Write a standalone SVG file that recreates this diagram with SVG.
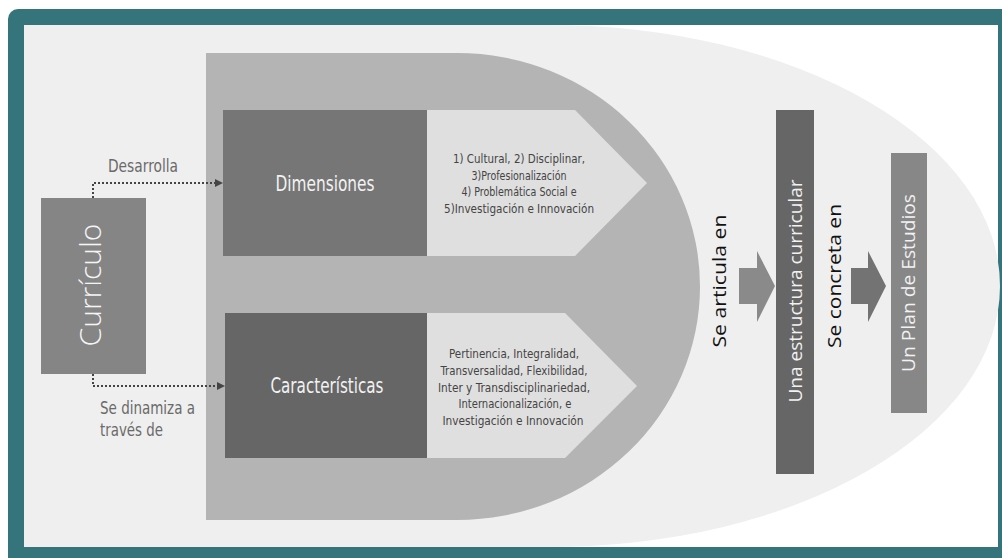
<svg xmlns="http://www.w3.org/2000/svg" width="1002" height="558" viewBox="0 0 1002 558">
<style>
.cond{font-family:"Liberation Sans Narrow","DejaVu Sans Condensed","Liberation Sans",sans-serif;}
.open{font-family:"Open Sans","Noto Sans","DejaVu Sans",sans-serif;}
.small{font-size:13px;fill:#444;}
.lbl{font-size:17px;fill:#6a6a6a;}
.title{font-size:20.5px;fill:#f2f2f2;}
.dot{fill:none;stroke:#444;stroke-width:2;stroke-dasharray:2 2;}
</style>
<defs>
<marker id="ah" viewBox="0 0 8 8" refX="7" refY="4" markerWidth="8" markerHeight="8" markerUnits="userSpaceOnUse" orient="auto">
<path d="M0,0 L8,4 L0,8 Z" fill="#444"/>
</marker>
</defs>
<g id="frame">
<path d="M18,9 H1002 V558 H8 V19 A10,10 0 0 1 18,9 Z" fill="#36747b"/>
<rect x="24" y="25" width="974" height="522" fill="#ffffff"/>
<path d="M24,25 H550 A450,261 0 0 1 550,547 H24 Z" fill="#efefef"/>
<path d="M206,53 H457 A243,233.5 0 0 1 457,520 H206 Z" fill="#b4b4b4"/>
</g>
<g id="curriculo">
<rect x="41" y="198" width="105" height="176" fill="#858585"/>
<text class="open" transform="translate(101,285) rotate(-90)" text-anchor="middle" font-size="30" font-weight="300" fill="#f5f5f5" textLength="123" lengthAdjust="spacingAndGlyphs">Currículo</text>
</g>
<g id="connectors">
<polyline class="dot" points="93,198 93,183 222,183" marker-end="url(#ah)"/>
<polyline class="dot" points="93,374 93,386 224,386" marker-end="url(#ah)"/>
<text class="cond lbl" x="108" y="172" textLength="70" lengthAdjust="spacingAndGlyphs">Desarrolla</text>
<text class="cond lbl" x="100" y="414" textLength="95" lengthAdjust="spacingAndGlyphs">Se dinamiza a</text>
<text class="cond lbl" x="100" y="436" textLength="63" lengthAdjust="spacingAndGlyphs">través de</text>
</g>
<g id="dimensiones">
<polygon points="427,110 575,110 647,183 575,256 427,256" fill="#dfdfdf"/>
<rect x="223" y="110" width="204" height="146" fill="#767676"/>
<text class="cond title" x="325" y="191" text-anchor="middle" textLength="99" lengthAdjust="spacingAndGlyphs">Dimensiones</text>
<g class="cond small" text-anchor="middle">
<text x="519" y="163" textLength="132" lengthAdjust="spacingAndGlyphs">1) Cultural, 2) Disciplinar,</text>
<text x="519" y="180" textLength="95" lengthAdjust="spacingAndGlyphs">3)Profesionalización</text>
<text x="519" y="196" textLength="115" lengthAdjust="spacingAndGlyphs">4) Problemática Social e</text>
<text x="519" y="213" textLength="150" lengthAdjust="spacingAndGlyphs">5)Investigación e Innovación</text>
</g>
</g>
<g id="caracteristicas">
<polygon points="427,313 565,313 637,386 565,458 427,458" fill="#dfdfdf"/>
<rect x="225" y="313" width="202" height="145" fill="#666666"/>
<text class="cond title" x="327" y="393" text-anchor="middle" textLength="113" lengthAdjust="spacingAndGlyphs">Características</text>
<g class="cond small" text-anchor="middle">
<text x="514" y="358" textLength="130" lengthAdjust="spacingAndGlyphs">Pertinencia, Integralidad,</text>
<text x="514" y="375" textLength="147" lengthAdjust="spacingAndGlyphs">Transversalidad, Flexibilidad,</text>
<text x="514" y="392" textLength="152" lengthAdjust="spacingAndGlyphs">Inter y Transdisciplinariedad,</text>
<text x="515" y="408" textLength="113" lengthAdjust="spacingAndGlyphs">Internacionalización, e</text>
<text x="513" y="425" textLength="141" lengthAdjust="spacingAndGlyphs">Investigación e Innovación</text>
</g>
</g>
<g id="articula">
<polygon points="739,268 757,268 757,251 775,286 757,322 757,304 739,304" fill="#8a8a8a"/>
<text class="open" transform="translate(726,281) rotate(-90)" text-anchor="middle" font-size="19" fill="#111" textLength="133" lengthAdjust="spacingAndGlyphs">Se articula en</text>
</g>
<g id="estructura">
<rect x="776" y="110" width="38" height="364" fill="#666666"/>
<text class="open" transform="translate(802,291) rotate(-90)" text-anchor="middle" font-size="19" fill="#f2f2f2" textLength="223" lengthAdjust="spacingAndGlyphs">Una estructura curricular</text>
</g>
<g id="concreta">
<polygon points="851,268 868,268 868,251 886,286 868,322 868,304 851,304" fill="#737373"/>
<text class="open" transform="translate(841,276) rotate(-90)" text-anchor="middle" font-size="19" fill="#111" textLength="144" lengthAdjust="spacingAndGlyphs">Se concreta en</text>
</g>
<g id="plan">
<rect x="891" y="153" width="36" height="260" fill="#878787"/>
<text class="open" transform="translate(915,283) rotate(-90)" text-anchor="middle" font-size="19" fill="#f2f2f2" textLength="178" lengthAdjust="spacingAndGlyphs">Un Plan de Estudios</text>
</g>
</svg>
